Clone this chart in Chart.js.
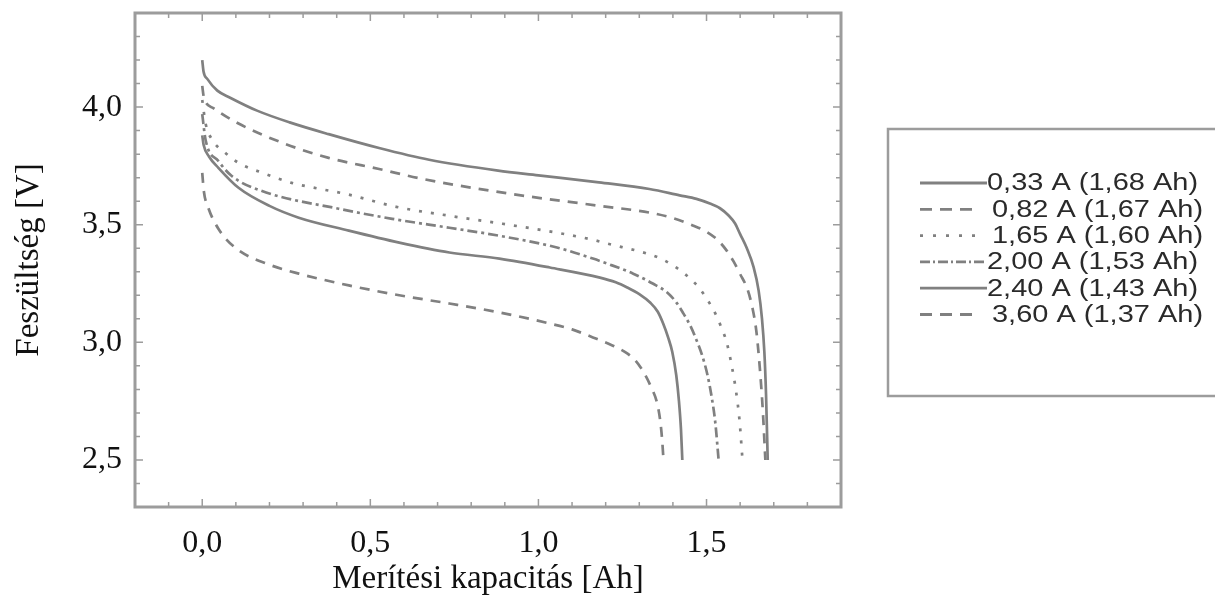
<!DOCTYPE html>
<html>
<head>
<meta charset="utf-8">
<script src="https://cdn.jsdelivr.net/npm/chart.js@4.4.1/dist/chart.umd.min.js"></script>
<style>
  html, body { margin: 0; padding: 0; background: #fff; }
  canvas { display: block; }
</style>
</head>
<body>
<canvas id="discharge-chart" width="1215" height="596"></canvas>
<script>
// discharge curves, capacity [Ah] vs voltage [V]
const cap033 = [0, 0.004, 0.015, 0.045, 0.083, 0.163, 0.26, 0.376, 0.526, 0.675, 0.88, 1.0, 1.18, 1.33, 1.42, 1.47, 1.51, 1.54, 1.565, 1.585, 1.60, 1.62, 1.64, 1.655, 1.665, 1.672, 1.677, 1.682];
const volt033 = [4.2, 4.15, 4.12, 4.07, 4.04, 3.985, 3.935, 3.885, 3.826, 3.776, 3.73, 3.71, 3.68, 3.652, 3.625, 3.61, 3.59, 3.57, 3.54, 3.505, 3.46, 3.40, 3.32, 3.22, 3.10, 2.96, 2.78, 2.5];

const cap082 = [0, 0.005, 0.033, 0.108, 0.248, 0.376, 0.526, 0.654, 0.923, 1.183, 1.333, 1.40, 1.461, 1.50, 1.533, 1.56, 1.58, 1.60, 1.622, 1.636, 1.648, 1.658, 1.667, 1.675];
const volt082 = [4.09, 4.04, 3.996, 3.93, 3.843, 3.784, 3.737, 3.695, 3.63, 3.58, 3.551, 3.528, 3.496, 3.47, 3.435, 3.39, 3.345, 3.29, 3.225, 3.15, 3.05, 2.9, 2.72, 2.5];

const cap165 = [0, 0.01, 0.03, 0.069, 0.108, 0.188, 0.266, 0.347, 0.427, 0.577, 0.735, 0.893, 1.055, 1.162, 1.204, 1.324, 1.365, 1.401, 1.44, 1.476, 1.503, 1.527, 1.545, 1.56, 1.575, 1.588, 1.598, 1.607];
const volt165 = [4.03, 3.93, 3.86, 3.805, 3.763, 3.716, 3.678, 3.653, 3.631, 3.576, 3.538, 3.504, 3.466, 3.436, 3.42, 3.377, 3.355, 3.326, 3.285, 3.235, 3.18, 3.12, 3.06, 3.0, 2.9, 2.79, 2.67, 2.5];

const cap200 = [0, 0.01, 0.048, 0.087, 0.176, 0.406, 0.565, 0.735, 0.884, 1.055, 1.162, 1.204, 1.282, 1.34, 1.383, 1.41, 1.431, 1.452, 1.47, 1.488, 1.503, 1.515, 1.526, 1.536];
const volt200 = [3.97, 3.86, 3.771, 3.708, 3.644, 3.568, 3.525, 3.487, 3.453, 3.403, 3.356, 3.335, 3.292, 3.25, 3.212, 3.17, 3.123, 3.07, 3.01, 2.94, 2.86, 2.77, 2.66, 2.5];

const cap240 = [0, 0.004, 0.02, 0.048, 0.108, 0.2, 0.287, 0.436, 0.586, 0.735, 0.884, 1.034, 1.183, 1.23, 1.264, 1.30, 1.333, 1.355, 1.371, 1.386, 1.398, 1.41, 1.418, 1.424, 1.428];
const volt240 = [3.88, 3.84, 3.79, 3.742, 3.657, 3.58, 3.53, 3.475, 3.424, 3.382, 3.356, 3.318, 3.275, 3.255, 3.233, 3.205, 3.168, 3.13, 3.08, 3.02, 2.96, 2.86, 2.75, 2.63, 2.5];

const cap360 = [0, 0.005, 0.018, 0.048, 0.1, 0.2, 0.287, 0.436, 0.586, 0.735, 0.884, 1.034, 1.10, 1.162, 1.215, 1.264, 1.29, 1.312, 1.335, 1.353, 1.362, 1.368, 1.372];
const volt360 = [3.72, 3.64, 3.572, 3.483, 3.40, 3.33, 3.292, 3.242, 3.2, 3.165, 3.127, 3.08, 3.055, 3.021, 2.99, 2.953, 2.92, 2.875, 2.81, 2.742, 2.67, 2.585, 2.5];

const seriesLabels = ['0,33 A (1,68 Ah)', '0,82 A (1,67 Ah)', '1,65 A (1,60 Ah)', '2,00 A (1,53 Ah)', '2,40 A (1,43 Ah)', '3,60 A (1,37 Ah)'];
const xTickValues = [0, 0.5, 1.0, 1.5];
const yTickValues = [2.5, 3.0, 3.5, 4.0];

const LINE_GREY = '#808080';
const AXIS_GREY = '#9c9c9c';
const dashStyles = [[], [10, 8], [3, 9], [10, 4, 3, 4], [], [10, 8]];
const legendDash = [[], [12, 8], [3, 10], [10, 3, 2, 3], [], [12, 8]];

function toPoints(caps, volts) {
    return caps.map((c, i) => ({ x: c, y: volts[i] }));
}

const seriesData = [
    toPoints(cap033, volt033),
    toPoints(cap082, volt082),
    toPoints(cap165, volt165),
    toPoints(cap200, volt200),
    toPoints(cap240, volt240),
    toPoints(cap360, volt360)
];

const commaFmt = v => Number(v).toFixed(1).replace('.', ',');

// frame with inward ticks on all four sides
const framePlugin = {
    id: 'frame',
    afterDraw(chart) {
        const { ctx, chartArea: a, scales: { x, y } } = chart;
        ctx.save();
        ctx.strokeStyle = AXIS_GREY;
        ctx.lineWidth = 1.5;
        for (let i = -1; i <= 18; i++) {
            const px = x.getPixelForValue(i / 10);
            const len = i % 5 === 0 ? 8 : 5;
            ctx.beginPath();
            ctx.moveTo(px, a.bottom); ctx.lineTo(px, a.bottom - len);
            ctx.moveTo(px, a.top); ctx.lineTo(px, a.top + len);
            ctx.stroke();
        }
        for (let i = 24; i <= 43; i++) {
            const py = y.getPixelForValue(i / 10);
            const len = i % 5 === 0 ? 8 : 5;
            ctx.beginPath();
            ctx.moveTo(a.left, py); ctx.lineTo(a.left + len, py);
            ctx.moveTo(a.right, py); ctx.lineTo(a.right - len, py);
            ctx.stroke();
        }
        ctx.lineWidth = 3;
        ctx.strokeRect(a.left, a.top, a.right - a.left, a.bottom - a.top);
        ctx.restore();
    }
};

// boxed legend on the right, text slightly stretched like the original
const boxLegendPlugin = {
    id: 'boxLegend',
    afterDraw(chart) {
        const ctx = chart.ctx;
        ctx.save();
        ctx.strokeStyle = AXIS_GREY;
        ctx.lineWidth = 2.5;
        ctx.strokeRect(888, 129, 400, 267);
        seriesLabels.forEach((label, i) => {
            const yy = 183 + i * 26.3;
            const joined = legendDash[i].length === 0 || legendDash[i].length === 4;
            ctx.strokeStyle = LINE_GREY;
            ctx.lineWidth = 2.8;
            ctx.setLineDash(legendDash[i]);
            ctx.beginPath();
            ctx.moveTo(920, yy);
            ctx.lineTo(joined ? 987 : 978, yy);
            ctx.stroke();
            ctx.setLineDash([]);
            ctx.save();
            ctx.translate(joined ? 987 : 992, yy);
            ctx.scale(1.26, 1);
            ctx.fillStyle = '#2a2a2a';
            ctx.font = '23px "Liberation Sans", Arial, sans-serif';
            ctx.textBaseline = 'middle';
            ctx.fillText(label, 0, 1);
            ctx.restore();
        });
        ctx.restore();
    }
};

const ctx = document.getElementById('discharge-chart').getContext('2d');
new Chart(ctx, {
    type: 'line',
    data: {
        datasets: seriesData.map((pts, i) => ({
            label: seriesLabels[i],
            data: pts,
            borderColor: LINE_GREY,
            borderWidth: 2.7,
            borderDash: dashStyles[i],
            pointRadius: 0,
            fill: false,
            cubicInterpolationMode: 'monotone'
        }))
    },
    options: {
        responsive: false,
        animation: false,
        devicePixelRatio: 1,
        layout: { padding: { left: 0, top: 13, right: 374, bottom: 0 } },
        plugins: { legend: { display: false }, tooltip: { enabled: false } },
        scales: {
            x: {
                type: 'linear',
                min: -0.2,
                max: 1.9,
                grid: { display: false, drawTicks: false },
                border: { display: false },
                afterBuildTicks: s => { s.ticks = xTickValues.map(v => ({ value: v })); },
                afterFit: s => { s.height = 89; s.paddingLeft = 0; s.paddingRight = 0; },
                ticks: {
                    padding: 17,
                    color: '#111',
                    font: { family: '"Liberation Serif", "Times New Roman", serif', size: 32 },
                    callback: v => commaFmt(v)
                },
                title: {
                    display: true,
                    text: 'Merítési kapacitás [Ah]',
                    color: '#111',
                    padding: { top: 0, bottom: 0 },
                    font: { family: '"Liberation Serif", "Times New Roman", serif', size: 33, lineHeight: 1 }
                }
            },
            y: {
                min: 2.3,
                max: 4.4,
                grid: { display: false, drawTicks: false },
                border: { display: false },
                afterBuildTicks: s => { s.ticks = yTickValues.map(v => ({ value: v })); },
                afterFit: s => { s.width = 135; s.paddingTop = 0; s.paddingBottom = 0; },
                ticks: {
                    padding: 13,
                    color: '#111',
                    font: { family: '"Liberation Serif", "Times New Roman", serif', size: 32 },
                    callback: v => commaFmt(v)
                },
                title: {
                    display: true,
                    text: 'Feszültség [V]',
                    color: '#111',
                    padding: { top: 13, bottom: 0 },
                    font: { family: '"Liberation Serif", "Times New Roman", serif', size: 33, lineHeight: 1 }
                }
            }
        }
    },
    plugins: [framePlugin, boxLegendPlugin]
});
</script>
</body>
</html>
